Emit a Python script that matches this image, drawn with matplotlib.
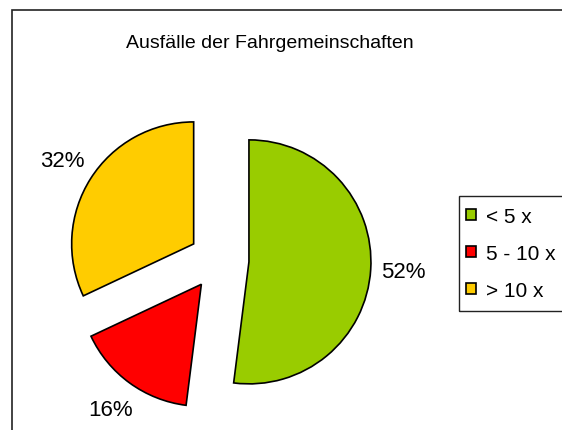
import matplotlib.pyplot as plt
from matplotlib.patches import Rectangle

# data
labels = ["< 5 x", "5 - 10 x", "> 10 x"]
values = [52, 16, 32]
colors = ["#99CC00", "#FF0000", "#FFCC00"]

plt.rcParams['font.family'] = ['Liberation Sans', 'DejaVu Sans']

W, H = 562, 431
fig = plt.figure(figsize=(W / 100, H / 100), dpi=100)
ax = fig.add_axes([0, 0, 1, 1])

wedges, texts, autotexts = ax.pie(
    values,
    colors=colors,
    explode=[30] * 3,  # data units = pixels here
    startangle=90,
    counterclock=False,
    center=(219, H - 261),
    radius=122,
    autopct="%d%%",
    pctdistance=1.27,
    wedgeprops=dict(edgecolor="black", linewidth=1.2),
    textprops=dict(fontsize=16, color="black"),
)

ax.set_xlim(0, W)
ax.set_ylim(0, H)
ax.set_aspect("equal")
ax.axis("off")

# chart border (cut off at right / bottom)
ax.add_patch(Rectangle((12, -20), W + 20, H - 11 + 20, fill=False,
                       edgecolor="#222222", linewidth=1.2, clip_on=False))
# legend box
ax.add_patch(Rectangle((459, H - 312), 200, 115, fill=False,
                       edgecolor="#222222", linewidth=1.0, clip_on=False))

fig.text(270 / W, 1 - 43 / H, "Ausfälle der Fahrgemeinschaften",
         ha="center", va="center", fontsize=14)

fig.legend(wedges, labels, loc="upper left",
           bbox_to_anchor=(466 / W, 1 - 208 / H), bbox_transform=fig.transFigure,
           frameon=False, fontsize=15, borderpad=0, borderaxespad=0,
           handlelength=0.48, handleheight=0.48, handletextpad=0.5,
           labelspacing=0.86)

fig.savefig("out.png", dpi=100)
